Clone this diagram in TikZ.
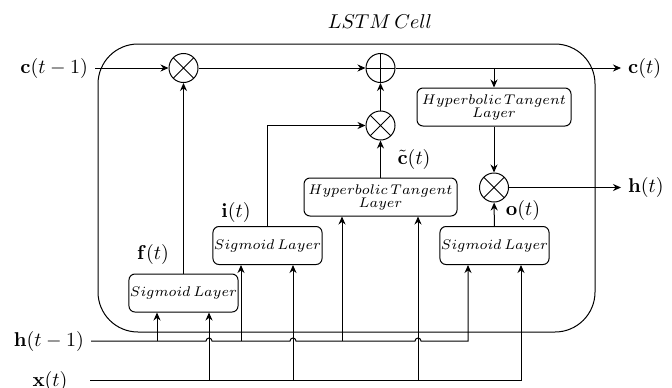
\documentclass[tikz,border=0pt]{standalone}
\usepackage{amssymb}
\usepackage{amsmath}
\usetikzlibrary{
    arrows.meta,
    calc,
    positioning
}

\begin{document}
\begin{tikzpicture}[x=0.5pt, y=0.5pt, line width=0.5pt,
    >={Stealth[length=4pt, width=3.5pt]},
    layer/.style={draw, rounded corners=3pt, font=\scriptsize, align=center,
        inner sep=0.5pt, minimum height=19pt},
    op/.style={draw, circle, minimum size=14.5pt, inner sep=0pt},
    mult/.style={op, path picture={
        \draw (path picture bounding box.north west) -- (path picture bounding box.south east)
              (path picture bounding box.south west) -- (path picture bounding box.north east);}},
    plus/.style={op, path picture={
        \draw (path picture bounding box.north) -- (path picture bounding box.south)
              (path picture bounding box.west) -- (path picture bounding box.east);}},
    lbl/.style={inner sep=1pt}]
    \useasboundingbox (0,0) rectangle (672,387);

    % cell
    \draw[rounded corners=20pt] (98,55) rectangle (595,343);
    \node (title) at (380,365) {$LSTM\,Cell$};

    % gates and layers
    \node[mult] (mulf) at (183.5,319) {};
    \node[plus] (add) at (380.5,319) {};
    \node[mult] (muli) at (380.5,261.5) {};
    \node[mult] (mulo) at (494,199.5) {};

    \node[layer, minimum width=77pt] (tanhc) at (494,280) {$Hyperbolic\,Tangent$\\[-1.5pt]$Layer$};
    \node[layer, minimum width=76.5pt] (tanhg) at (380.5,190) {$Hyperbolic\,Tangent$\\[-1.5pt]$Layer$};
    \node[layer, minimum width=53pt] (sigf) at (183.5,94) {$Sigmoid\,Layer$};
    \node[layer, minimum width=53pt] (sigi) at (267.5,141.5) {$Sigmoid\,Layer$};
    \node[layer, minimum width=53pt] (sigo) at (494.5,141.5) {$Sigmoid\,Layer$};

    % labels
    \node[anchor=east] (cprev) at (95,319) {$\mathbf{c}(t-1)$};
    \node[anchor=west] (cnext) at (621,319) {$\mathbf{c}(t)$};
    \node[anchor=west] (hnext) at (621,199.5) {$\mathbf{h}(t)$};
    \node[anchor=east] (hprev) at (91,46) {$\mathbf{h}(t-1)$};
    \node[lbl] (xin) at (50,6) {$\mathbf{x}(t)$};
    \node[lbl] (ft) at (153,133) {$\mathbf{f}(t)$};
    \node[lbl] (it) at (236,175) {$\mathbf{i}(t)$};
    \node[lbl] (ot) at (523,177) {$\mathbf{o}(t)$};
    \node[lbl] (gt) at (414,228) {$\tilde{\mathbf{c}}(t)$};

    % cell state
    \draw[->] (cprev) -- (mulf);
    \draw[->] (mulf) -- (add);
    \draw[->] (add) -- (cnext);
    \coordinate (ctap) at (tanhc.north |- add);
    \draw[->] (ctap) -- (tanhc);
    \draw[->] (tanhc) -- (mulo);
    \draw[->] (mulo) -- (hnext);

    \draw[->] (sigf) -- (mulf);
    \draw[->] (sigi.north) |- (muli);
    \draw[->] (tanhg) -- (muli);
    \draw[->] (muli) -- (add);
    \draw[->] (sigo) -- (mulo);

    % inputs
    \coordinate (hf) at (157,46);
    \coordinate (hi) at (241,46);
    \coordinate (hg) at (342,46);
    \coordinate (ho) at (468,46);
    \coordinate (xs) at (90,7);
    \coordinate (xf) at (209,7);
    \coordinate (xi) at (293,7);
    \coordinate (xg) at (418,7);
    \coordinate (xo) at (521,7);

    \draw[->] (hprev.east) -- (206,46) arc[start angle=180, end angle=0, radius=3]
        -- (290,46) arc[start angle=180, end angle=0, radius=3]
        -- (415,46) arc[start angle=180, end angle=0, radius=3]
        -- (ho) -- (ho |- sigo.south);
    \draw[->] (hf) -- (hf |- sigf.south);
    \draw[->] (hi) -- (hi |- sigi.south);
    \draw[->] (hg) -- (hg |- tanhg.south);

    \draw[->] (xs) -- (xo) -- (xo |- sigo.south);
    \draw[->] (xf) -- (xf |- sigf.south);
    \draw[->] (xi) -- (xi |- sigi.south);
    \draw[->] (xg) -- (xg |- tanhg.south);
\end{tikzpicture}
\end{document}
